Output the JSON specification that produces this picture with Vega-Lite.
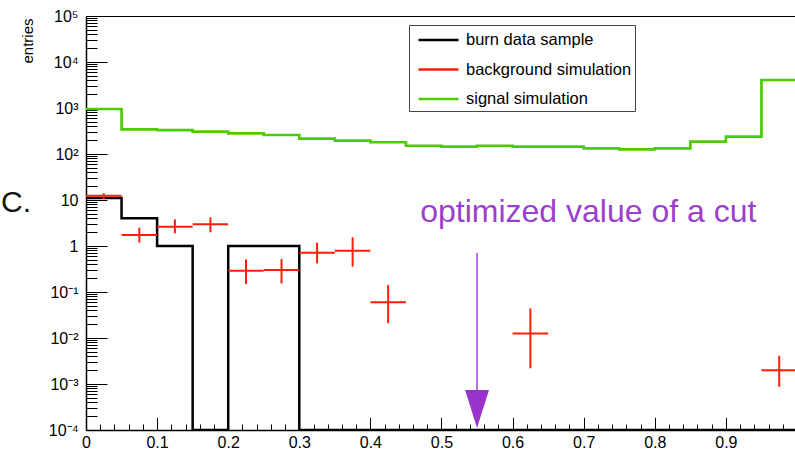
{
  "$schema": "https://vega.github.io/schema/vega-lite/v6.json",
  "width": 709,
  "height": 414,
  "autosize": {"type": "none"},
  "padding": {"left": 86, "top": 16, "right": 0, "bottom": 33},
  "background": "white",
  "config": {
    "view": {"stroke": null},
    "font": "Liberation Sans",
    "axis": {"grid": false, "labelFlush": false, "labelOverlap": false, "labelBound": false, "tickColor": "#000", "domainColor": "#000", "labelColor": "#000", "labelFont": "Liberation Sans"}
  },
  "datasets": {
    "hist": [
      {"series": "burn data sample", "x": 0.0, "y": 11},
      {"series": "burn data sample", "x": 0.05, "y": 4},
      {"series": "burn data sample", "x": 0.1, "y": 1},
      {"series": "burn data sample", "x": 0.15, "y": 0.0001},
      {"series": "burn data sample", "x": 0.2, "y": 1},
      {"series": "burn data sample", "x": 0.25, "y": 1},
      {"series": "burn data sample", "x": 0.3, "y": 0.0001},
      {"series": "burn data sample", "x": 0.35, "y": 0.0001},
      {"series": "burn data sample", "x": 0.4, "y": 0.0001},
      {"series": "burn data sample", "x": 0.45, "y": 0.0001},
      {"series": "burn data sample", "x": 0.5, "y": 0.0001},
      {"series": "burn data sample", "x": 0.55, "y": 0.0001},
      {"series": "burn data sample", "x": 0.6, "y": 0.0001},
      {"series": "burn data sample", "x": 0.65, "y": 0.0001},
      {"series": "burn data sample", "x": 0.7, "y": 0.0001},
      {"series": "burn data sample", "x": 0.75, "y": 0.0001},
      {"series": "burn data sample", "x": 0.8, "y": 0.0001},
      {"series": "burn data sample", "x": 0.85, "y": 0.0001},
      {"series": "burn data sample", "x": 0.9, "y": 0.0001},
      {"series": "burn data sample", "x": 0.95, "y": 0.0001},
      {"series": "burn data sample", "x": 1.0, "y": 0.0001},
      {"series": "signal simulation", "x": 0.0, "y": 951},
      {"series": "signal simulation", "x": 0.05, "y": 344},
      {"series": "signal simulation", "x": 0.1, "y": 331},
      {"series": "signal simulation", "x": 0.15, "y": 306},
      {"series": "signal simulation", "x": 0.2, "y": 281},
      {"series": "signal simulation", "x": 0.25, "y": 259},
      {"series": "signal simulation", "x": 0.3, "y": 215},
      {"series": "signal simulation", "x": 0.35, "y": 195},
      {"series": "signal simulation", "x": 0.4, "y": 180},
      {"series": "signal simulation", "x": 0.45, "y": 151},
      {"series": "signal simulation", "x": 0.5, "y": 144},
      {"series": "signal simulation", "x": 0.55, "y": 151},
      {"series": "signal simulation", "x": 0.6, "y": 144},
      {"series": "signal simulation", "x": 0.65, "y": 144},
      {"series": "signal simulation", "x": 0.7, "y": 133},
      {"series": "signal simulation", "x": 0.75, "y": 126},
      {"series": "signal simulation", "x": 0.8, "y": 133},
      {"series": "signal simulation", "x": 0.85, "y": 185},
      {"series": "signal simulation", "x": 0.9, "y": 238},
      {"series": "signal simulation", "x": 0.95, "y": 4060},
      {"series": "signal simulation", "x": 1.0, "y": 4060}
    ],
    "bkg": [
      {"series": "background simulation", "x": 0.025, "xlo": 0.0, "xhi": 0.05, "y": 12.4, "ylo": 10.5, "yhi": 14.0},
      {"series": "background simulation", "x": 0.075, "xlo": 0.05, "xhi": 0.1, "y": 1.73, "ylo": 1.18, "yhi": 2.5},
      {"series": "background simulation", "x": 0.125, "xlo": 0.1, "xhi": 0.15, "y": 2.63, "ylo": 1.89, "yhi": 3.8},
      {"series": "background simulation", "x": 0.175, "xlo": 0.15, "xhi": 0.2, "y": 2.96, "ylo": 1.99, "yhi": 4.2},
      {"series": "background simulation", "x": 0.225, "xlo": 0.2, "xhi": 0.25, "y": 0.29, "ylo": 0.149, "yhi": 0.51},
      {"series": "background simulation", "x": 0.275, "xlo": 0.25, "xhi": 0.3, "y": 0.30, "ylo": 0.154, "yhi": 0.52},
      {"series": "background simulation", "x": 0.325, "xlo": 0.3, "xhi": 0.35, "y": 0.71, "ylo": 0.42, "yhi": 1.18},
      {"series": "background simulation", "x": 0.375, "xlo": 0.35, "xhi": 0.4, "y": 0.79, "ylo": 0.355, "yhi": 1.55},
      {"series": "background simulation", "x": 0.425, "xlo": 0.4, "xhi": 0.45, "y": 0.0597, "ylo": 0.0209, "yhi": 0.142},
      {"series": "background simulation", "x": 0.625, "xlo": 0.6, "xhi": 0.65, "y": 0.0126, "ylo": 0.0022, "yhi": 0.044},
      {"series": "background simulation", "x": 0.975, "xlo": 0.95, "xhi": 1.0, "y": 0.0020, "ylo": 0.00087, "yhi": 0.0041}
    ],
    "note": [
      {"label": "optimized value of a cut", "cut": 0.55}
    ]
  },
  "resolve": {"axis": {"x": "independent", "y": "independent"}},
  "layer": [
    {
      "data": {"name": "hist"},
      "transform": [{"filter": "datum.series == 'burn data sample'"}],
      "mark": {"type": "line", "interpolate": "step-after", "strokeWidth": 2.5, "clip": true},
      "encoding": {
        "x": {"field": "x", "type": "quantitative",
          "scale": {"domain": [0, 0.9972], "nice": false, "zero": false},
          "axis": {"orient": "bottom", "values": [0, 0.1, 0.2, 0.3, 0.4, 0.5, 0.6, 0.7, 0.8, 0.9], "tickSize": -12.7, "tickWidth": 1, "domainWidth": 1.5, "labelPadding": 17.5, "labelFontSize": 16, "labelExpr": "datum.value == 0 ? '0' : format(datum.value, '.1f')", "title": null}},
        "y": {"field": "y", "type": "quantitative",
          "scale": {"type": "log", "domain": [0.0001, 100000], "nice": false},
          "axis": {"orient": "left", "values": [0.0001, 0.001, 0.01, 0.1, 1, 10, 100, 1000, 10000, 100000], "tickSize": -21, "tickWidth": 1, "domainWidth": 1.5, "labelPadding": 29, "labelFontSize": 16,
            "labelExpr": "datum.value == 1 ? '1' : '10' + ['⁻⁴','⁻³','⁻²','⁻¹','','','²','³','⁴','⁵'][round(log(datum.value)/LN10) + 4]",
            "title": "entries", "titleFontSize": 15, "titleFontWeight": "normal", "titleAngle": 270, "titleAlign": "right", "titleBaseline": "alphabetic", "titleX": -54, "titleY": 2, "titleColor": "#000"}},
        "color": {"field": "series", "type": "nominal",
          "scale": {"domain": ["burn data sample", "background simulation", "signal simulation"], "range": ["#000000", "#fc1e0a", "#4ccc00"]},
          "legend": {"title": null, "orient": "none", "legendX": 323, "legendY": 9, "symbolType": "M-2,0H2", "symbolSize": 400, "symbolStrokeWidth": 2.5, "symbolOffset": 14.5, "labelOffset": 16, "labelFontSize": 16.5, "labelFont": "Liberation Sans", "labelColor": "#000", "labelLimit": 400, "strokeColor": "#444", "padding": 3.5, "rowPadding": 9.5, "fillColor": "white"}}
      }
    },
    {
      "data": {"name": "hist"},
      "transform": [{"filter": "datum.series == 'signal simulation'"}],
      "mark": {"type": "line", "interpolate": "step-after", "strokeWidth": 2.7, "clip": true},
      "encoding": {
        "x": {"field": "x", "type": "quantitative",
          "scale": {"domain": [0, 0.9972], "nice": false, "zero": false},
          "axis": {"orient": "bottom", "values": [0.02, 0.04, 0.06, 0.08, 0.12, 0.14, 0.16, 0.18, 0.22, 0.24, 0.26, 0.28, 0.32, 0.34, 0.36, 0.38, 0.42, 0.44, 0.46, 0.48, 0.52, 0.54, 0.56, 0.58, 0.62, 0.64, 0.66, 0.68, 0.72, 0.74, 0.76, 0.78, 0.82, 0.84, 0.86, 0.88, 0.92, 0.94, 0.96, 0.98], "tickSize": -6, "tickWidth": 1, "labels": false, "domain": false, "title": null}},
        "y": {"field": "y", "type": "quantitative",
          "scale": {"type": "log", "domain": [0.0001, 100000], "nice": false},
          "axis": {"orient": "left", "values": [0.0002, 0.0003, 0.0004, 0.0005, 0.0006, 0.0007, 0.0008, 0.0009, 0.002, 0.003, 0.004, 0.005, 0.006, 0.007, 0.008, 0.009, 0.02, 0.03, 0.04, 0.05, 0.06, 0.07, 0.08, 0.09, 0.2, 0.3, 0.4, 0.5, 0.6, 0.7, 0.8, 0.9, 2, 3, 4, 5, 6, 7, 8, 9, 20, 30, 40, 50, 60, 70, 80, 90, 200, 300, 400, 500, 600, 700, 800, 900, 2000, 3000, 4000, 5000, 6000, 7000, 8000, 9000, 20000, 30000, 40000, 50000, 60000, 70000, 80000, 90000], "tickSize": -11, "tickWidth": 1, "labels": false, "domain": false, "title": null}},
        "color": {"field": "series", "type": "nominal"}
      }
    },
    {
      "data": {"name": "bkg"},
      "mark": {"type": "rule", "strokeWidth": 2, "clip": true},
      "encoding": {
        "x": {"field": "xlo", "type": "quantitative",
          "axis": {"orient": "top", "ticks": false, "labels": false, "domain": true, "domainWidth": 1, "title": null}},
        "x2": {"field": "xhi"},
        "y": {"field": "y", "type": "quantitative", "axis": null},
        "color": {"field": "series", "type": "nominal"}
      }
    },
    {
      "data": {"name": "bkg"},
      "mark": {"type": "rule", "strokeWidth": 2, "clip": true},
      "encoding": {
        "x": {"field": "x", "type": "quantitative", "axis": null},
        "y": {"field": "ylo", "type": "quantitative", "axis": null},
        "y2": {"field": "yhi"},
        "color": {"field": "series", "type": "nominal"}
      }
    },
    {
      "data": {"name": "note"},
      "mark": {"type": "rule", "strokeWidth": 1.8, "color": "#b063e0"},
      "encoding": {
        "x": {"field": "cut", "type": "quantitative", "axis": null},
        "y": {"datum": 0.705, "type": "quantitative", "axis": null},
        "y2": {"datum": 0.00074}
      }
    },
    {
      "data": {"name": "note"},
      "mark": {"type": "point", "shape": "M-0.63,-1L0.63,-1L0,1Z", "size": 1444, "filled": true, "color": "#9933cc", "opacity": 1},
      "encoding": {
        "x": {"field": "cut", "type": "quantitative", "axis": null},
        "y": {"datum": 0.000286, "type": "quantitative", "axis": null}
      }
    },
    {
      "data": {"name": "note"},
      "mark": {"type": "text", "align": "left", "baseline": "alphabetic", "fontSize": 32, "font": "Liberation Sans", "color": "#9b3fcf"},
      "encoding": {
        "text": {"field": "label"},
        "x": {"datum": 0.47, "type": "quantitative", "axis": null},
        "y": {"datum": 3.32, "type": "quantitative", "axis": null}
      }
    },
    {
      "data": {"values": [{"label": "C."}]},
      "mark": {"type": "text", "align": "left", "baseline": "alphabetic", "fontSize": 30, "font": "Liberation Sans", "color": "#111"},
      "encoding": {
        "text": {"field": "label"},
        "x": {"datum": -0.1195, "type": "quantitative", "axis": null},
        "y": {"datum": 5.48, "type": "quantitative", "axis": null}
      }
    }
  ]
}
